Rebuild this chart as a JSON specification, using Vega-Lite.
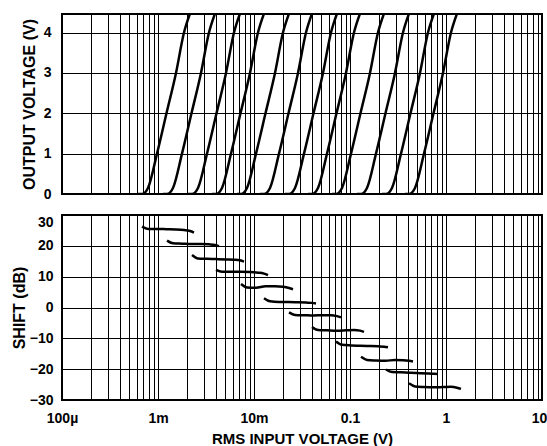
{
  "$schema": "https://vega.github.io/schema/vega-lite/v6.json",
  "padding": {"left": 10, "top": 13, "right": 0, "bottom": 0},
  "background": "white",
  "config": {
    "font": "Liberation Sans",
    "view": {"stroke": "#000", "strokeWidth": 2},
    "axis": {
      "labelFont": "Liberation Sans", "labelFontWeight": "bold", "labelFontSize": 14, "labelColor": "#000",
      "titleFont": "Liberation Sans", "titleFontWeight": "bold", "titleFontSize": 16, "titleColor": "#000",
      "gridColor": "#000", "gridOpacity": 1, "gridWidth": 1, "domain": false, "ticks": false,
      "labelFlush": false, "labelOverlap": false
    }
  },
  "datasets": {
    "curves": [
      {"c":1,"vin":0.000619,"vout":0},{"c":1,"vin":0.0006813,"vout":0},{"c":1,"vin":0.0007868,"vout":0.15},{"c":1,"vin":0.0009763,"vout":1},{"c":1,"vin":0.0012261,"vout":2},{"c":1,"vin":0.0015401,"vout":3},{"c":1,"vin":0.0018656,"vout":4},{"c":1,"vin":0.0021545,"vout":4.47},
      {"c":2,"vin":0.0011274,"vout":0},{"c":2,"vin":0.0012409,"vout":0},{"c":2,"vin":0.001433,"vout":0.15},{"c":2,"vin":0.0017782,"vout":1},{"c":2,"vin":0.0022332,"vout":2},{"c":2,"vin":0.0028051,"vout":3},{"c":2,"vin":0.003398,"vout":4},{"c":2,"vin":0.0039241,"vout":4.47},
      {"c":3,"vin":0.0020537,"vout":0},{"c":3,"vin":0.0022605,"vout":0},{"c":3,"vin":0.0026104,"vout":0.15},{"c":3,"vin":0.0032393,"vout":1},{"c":3,"vin":0.0040682,"vout":2},{"c":3,"vin":0.0051099,"vout":3},{"c":3,"vin":0.0061899,"vout":4},{"c":3,"vin":0.0071484,"vout":4.47},
      {"c":4,"vin":0.0036518,"vout":0},{"c":4,"vin":0.0040196,"vout":0},{"c":4,"vin":0.0046418,"vout":0.15},{"c":4,"vin":0.0057601,"vout":1},{"c":4,"vin":0.0072341,"vout":2},{"c":4,"vin":0.0090863,"vout":3},{"c":4,"vin":0.011007,"vout":4},{"c":4,"vin":0.012711,"vout":4.47},
      {"c":5,"vin":0.0066515,"vout":0},{"c":5,"vin":0.0073214,"vout":0},{"c":5,"vin":0.0084548,"vout":0.15},{"c":5,"vin":0.010492,"vout":1},{"c":5,"vin":0.013176,"vout":2},{"c":5,"vin":0.01655,"vout":3},{"c":5,"vin":0.020048,"vout":4},{"c":5,"vin":0.023152,"vout":4.47},
      {"c":6,"vin":0.011549,"vout":0},{"c":6,"vin":0.012712,"vout":0},{"c":6,"vin":0.01468,"vout":0.15},{"c":6,"vin":0.018216,"vout":1},{"c":6,"vin":0.022878,"vout":2},{"c":6,"vin":0.028736,"vout":3},{"c":6,"vin":0.034809,"vout":4},{"c":6,"vin":0.040199,"vout":4.47},
      {"c":7,"vin":0.021034,"vout":0},{"c":7,"vin":0.023153,"vout":0},{"c":7,"vin":0.026737,"vout":0.15},{"c":7,"vin":0.033178,"vout":1},{"c":7,"vin":0.041669,"vout":2},{"c":7,"vin":0.052337,"vout":3},{"c":7,"vin":0.0634,"vout":4},{"c":7,"vin":0.073217,"vout":4.47},
      {"c":8,"vin":0.036518,"vout":0},{"c":8,"vin":0.040196,"vout":0},{"c":8,"vin":0.046418,"vout":0.15},{"c":8,"vin":0.057601,"vout":1},{"c":8,"vin":0.072341,"vout":2},{"c":8,"vin":0.090863,"vout":3},{"c":8,"vin":0.11007,"vout":4},{"c":8,"vin":0.12711,"vout":4.47},
      {"c":9,"vin":0.064943,"vout":0},{"c":9,"vin":0.071484,"vout":0},{"c":9,"vin":0.08255,"vout":0.15},{"c":9,"vin":0.10244,"vout":1},{"c":9,"vin":0.12865,"vout":2},{"c":9,"vin":0.16159,"vout":3},{"c":9,"vin":0.19575,"vout":4},{"c":9,"vin":0.22605,"vout":4.47},
      {"c":10,"vin":0.11829,"vout":0},{"c":10,"vin":0.1302,"vout":0},{"c":10,"vin":0.15035,"vout":0.15},{"c":10,"vin":0.18658,"vout":1},{"c":10,"vin":0.23432,"vout":2},{"c":10,"vin":0.29432,"vout":3},{"c":10,"vin":0.35653,"vout":4},{"c":10,"vin":0.41173,"vout":4.47},
      {"c":11,"vin":0.21544,"vout":0},{"c":11,"vin":0.23714,"vout":0},{"c":11,"vin":0.27385,"vout":0.15},{"c":11,"vin":0.33982,"vout":1},{"c":11,"vin":0.42678,"vout":2},{"c":11,"vin":0.53606,"vout":3},{"c":11,"vin":0.64936,"vout":4},{"c":11,"vin":0.74991,"vout":4.47},
      {"c":12,"vin":0.37403,"vout":0},{"c":12,"vin":0.4117,"vout":0},{"c":12,"vin":0.47543,"vout":0.15},{"c":12,"vin":0.58997,"vout":1},{"c":12,"vin":0.74094,"vout":2},{"c":12,"vin":0.93065,"vout":3},{"c":12,"vin":1.1274,"vout":4},{"c":12,"vin":1.3019,"vout":4.47}
    ],
    "shift": [
      {"s":1,"vin":0.0006813,"db":26.2},{"s":1,"vin":0.0007868,"db":25.5},{"s":1,"vin":0.0009763,"db":25.5},{"s":1,"vin":0.0012261,"db":25.4},{"s":1,"vin":0.0015401,"db":25.3},{"s":1,"vin":0.0018656,"db":25.1},{"s":1,"vin":0.0021545,"db":24.8},{"s":1,"vin":0.002371,"db":24.3},
      {"s":2,"vin":0.0012409,"db":21.7},{"s":2,"vin":0.001433,"db":20.8},{"s":2,"vin":0.0017782,"db":20.7},{"s":2,"vin":0.0022332,"db":20.6},{"s":2,"vin":0.0028051,"db":20.6},{"s":2,"vin":0.003398,"db":20.5},{"s":2,"vin":0.0039241,"db":20.3},{"s":2,"vin":0.0043185,"db":19.9},
      {"s":3,"vin":0.0022605,"db":17.0},{"s":3,"vin":0.0026104,"db":15.9},{"s":3,"vin":0.0032393,"db":15.8},{"s":3,"vin":0.0040682,"db":15.7},{"s":3,"vin":0.0051099,"db":15.6},{"s":3,"vin":0.0061899,"db":15.5},{"s":3,"vin":0.0071484,"db":15.3},{"s":3,"vin":0.0078667,"db":14.9},
      {"s":4,"vin":0.0040196,"db":12.2},{"s":4,"vin":0.0046418,"db":11.6},{"s":4,"vin":0.0057601,"db":11.6},{"s":4,"vin":0.0072341,"db":11.6},{"s":4,"vin":0.0090863,"db":11.5},{"s":4,"vin":0.011007,"db":11.3},{"s":4,"vin":0.012711,"db":11.0},{"s":4,"vin":0.013989,"db":10.5},
      {"s":5,"vin":0.0073214,"db":7.6},{"s":5,"vin":0.0084548,"db":6.5},{"s":5,"vin":0.010492,"db":6.4},{"s":5,"vin":0.013176,"db":6.9},{"s":5,"vin":0.01655,"db":6.9},{"s":5,"vin":0.020048,"db":6.7},{"s":5,"vin":0.023152,"db":6.3},{"s":5,"vin":0.025479,"db":5.9},
      {"s":6,"vin":0.012712,"db":3.0},{"s":6,"vin":0.01468,"db":2.0},{"s":6,"vin":0.018216,"db":1.8},{"s":6,"vin":0.022878,"db":1.8},{"s":6,"vin":0.028736,"db":1.7},{"s":6,"vin":0.034809,"db":1.6},{"s":6,"vin":0.040199,"db":1.5},{"s":6,"vin":0.044239,"db":1.3},
      {"s":7,"vin":0.023153,"db":-1.6},{"s":7,"vin":0.026737,"db":-2.4},{"s":7,"vin":0.033178,"db":-2.5},{"s":7,"vin":0.041669,"db":-2.6},{"s":7,"vin":0.052337,"db":-2.5},{"s":7,"vin":0.0634,"db":-2.5},{"s":7,"vin":0.073217,"db":-2.8},{"s":7,"vin":0.080575,"db":-3.2},
      {"s":8,"vin":0.040196,"db":-6.3},{"s":8,"vin":0.046418,"db":-7.3},{"s":8,"vin":0.057601,"db":-7.4},{"s":8,"vin":0.072341,"db":-7.5},{"s":8,"vin":0.090863,"db":-7.4},{"s":8,"vin":0.11007,"db":-7.3},{"s":8,"vin":0.12711,"db":-7.5},{"s":8,"vin":0.13989,"db":-7.9},
      {"s":9,"vin":0.071484,"db":-11.0},{"s":9,"vin":0.08255,"db":-12.1},{"s":9,"vin":0.10244,"db":-12.3},{"s":9,"vin":0.12865,"db":-12.4},{"s":9,"vin":0.16159,"db":-12.5},{"s":9,"vin":0.19575,"db":-12.6},{"s":9,"vin":0.22605,"db":-12.7},{"s":9,"vin":0.24877,"db":-12.9},
      {"s":10,"vin":0.1302,"db":-16.0},{"s":10,"vin":0.15035,"db":-17.0},{"s":10,"vin":0.18658,"db":-17.2},{"s":10,"vin":0.23432,"db":-17.3},{"s":10,"vin":0.29432,"db":-17.0},{"s":10,"vin":0.35653,"db":-17.1},{"s":10,"vin":0.41173,"db":-17.3},{"s":10,"vin":0.45311,"db":-17.5},
      {"s":11,"vin":0.23714,"db":-20.1},{"s":11,"vin":0.27385,"db":-20.9},{"s":11,"vin":0.33982,"db":-21.0},{"s":11,"vin":0.42678,"db":-21.2},{"s":11,"vin":0.53606,"db":-21.3},{"s":11,"vin":0.64936,"db":-21.4},{"s":11,"vin":0.74991,"db":-21.5},{"s":11,"vin":0.82527,"db":-21.6},
      {"s":12,"vin":0.4117,"db":-24.6},{"s":12,"vin":0.47543,"db":-25.6},{"s":12,"vin":0.58997,"db":-25.8},{"s":12,"vin":0.74094,"db":-25.9},{"s":12,"vin":0.93065,"db":-25.8},{"s":12,"vin":1.1274,"db":-25.7},{"s":12,"vin":1.3019,"db":-26.0},{"s":12,"vin":1.4328,"db":-26.4}
    ]
  },
  "spacing": 21,
  "bounds": "flush",
  "resolve": {"scale": {"x": "independent", "y": "independent"}},
  "vconcat": [
    {
      "width": 480,
      "height": 180,
      "data": {"name": "curves"},
      "mark": {"type": "line", "color": "#000", "strokeWidth": 2.5, "interpolate": "monotone", "clip": true},
      "encoding": {
        "x": {
          "field": "vin", "type": "quantitative",
          "scale": {"type": "log", "domain": [0.0001, 10], "nice": false},
          "axis": {
            "values": [0.0001,0.0002,0.0003,0.0004,0.0005,0.0006,0.0007,0.0008,0.0009,0.001,0.002,0.003,0.004,0.005,0.006,0.007,0.008,0.009,0.01,0.02,0.03,0.04,0.05,0.06,0.07,0.08,0.09,0.1,0.2,0.3,0.4,0.5,0.6,0.7,0.8,0.9,1,2,3,4,5,6,7,8,9,10],
            "labels": false, "title": null, "grid": true
          }
        },
        "y": {
          "field": "vout", "type": "quantitative",
          "scale": {"domain": [0, 4.46], "nice": false, "zero": false},
          "axis": {"values": [0, 1, 2, 3, 4], "title": "OUTPUT VOLTAGE (V)", "labelPadding": 11, "titlePadding": 6, "grid": true}
        },
        "detail": {"field": "c", "type": "nominal"}
      }
    },
    {
      "width": 480,
      "height": 185,
      "data": {"name": "shift"},
      "mark": {"type": "line", "color": "#000", "strokeWidth": 2.5, "interpolate": "monotone", "clip": true},
      "encoding": {
        "x": {
          "field": "vin", "type": "quantitative",
          "scale": {"type": "log", "domain": [0.0001, 10], "nice": false},
          "axis": {
            "values": [0.0001,0.0002,0.0003,0.0004,0.0005,0.0006,0.0007,0.0008,0.0009,0.001,0.002,0.003,0.004,0.005,0.006,0.007,0.008,0.009,0.01,0.02,0.03,0.04,0.05,0.06,0.07,0.08,0.09,0.1,0.2,0.3,0.4,0.5,0.6,0.7,0.8,0.9,1,2,3,4,5,6,7,8,9,10],
            "labelExpr": "datum.value == 0.0001 ? '100µ' : datum.value == 0.001 ? '1m' : datum.value == 0.01 ? '10m' : datum.value == 0.1 ? '0.1' : datum.value == 1 ? '1' : datum.value == 10 ? '10' : ''",
            "labelOffset": {"expr": "datum.value == 10 ? -3 : 0"},
            "title": "RMS INPUT VOLTAGE  (V)", "titleFontSize": 15, "labelPadding": 11, "titlePadding": 6, "grid": true
          }
        },
        "y": {
          "field": "db", "type": "quantitative",
          "scale": {"domain": [-30, 30], "nice": false},
          "axis": {"values": [-30, -20, -10, 0, 10, 20, 30], "title": "SHIFT (dB)", "labelPadding": 9, "titlePadding": 2, "grid": true,
                   "labelBaseline": {"expr": "datum.value == 30 ? 'top' : 'middle'"}}
        },
        "detail": {"field": "s", "type": "nominal"}
      }
    }
  ]
}
